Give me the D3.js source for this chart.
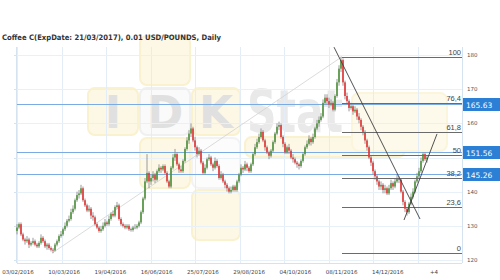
<!DOCTYPE html>
<html>
<head>
<meta charset="utf-8">
<script src="https://cdn.jsdelivr.net/npm/d3@7"></script>
<style>
body { margin: 0; background: #fff; }
svg { display: block; }
</style>
</head>
<body>
<div id="chart"></div>
<script>
const title = "Coffee C(ExpDate: 21/03/2017), 0.01 USD/POUNDS, Daily"

// daily closes, open = previous close
const firstOpen = 128.5
const closes = [129.5,130.5,127.5,126,125.5,126,124.5,125,125.5,124.5,
  124,125,126.5,125.5,124,124.5,123.5,123,122.8,124.5,
  125.5,127,127.5,129,130,131.5,132,134,135,137.5,
  139,139.5,141,137.5,136,134.5,135,133,132.5,130.5,
  129.5,128.5,129,130,131,130.5,132,133.5,133,135.5,
  136,132,130.5,130,129.5,130,129,128.8,129.5,129.5,
  130,131,134,138,143,145.5,143,144,145,143.5,
  146,147,146.5,147.5,145.5,143,141.5,147,150,151,
  148,146.5,146,149,152.5,155,157,158.5,155,153,
  151,152,148.5,145.5,147,149.5,150,148,147,149,
  147.5,144,145,143,142,141,140,140.5,141.5,140.5,
  143,145,147,146.5,148,147,146,148,151,153,
  154.5,156,157.5,155,153,151.5,150.5,152,154.5,157,
  159,159.5,156,154,151.5,153,152,150,149.5,148.5,
  148,147.5,149,151,153,154,155.5,154.5,156,158.5,
  160,161,162,166,167.5,166.5,165.5,166,164,168,
  172,176,178.5,172,168,166.5,164.5,165,163.5,164,
  162,161,159,157.5,155,153,150,148.5,146,144.5,
  143,141.5,142,140.5,141,139.5,141,142.5,141.5,143,
  144,143.5,140,137,135,134,136.5,138.5,140,143,
  144.5,146,149,151,149.5,150]
const highs = [130.5,131,131,128,126.5,127,126.5,125.5,126.5,126,
  125,125.5,127.5,127,126,125,125,124,123.5,125,
  126,127.5,128.5,129.5,131,132,133,135,136,138,
  140,140.5,142,141.5,138,136.5,136,135.5,134,133,
  131,130,130,131,132,131.5,133,134,134.5,136,
  137,136.5,132.5,131,130.5,130.5,130.5,129.5,130,130.5,
  130.5,131.5,134.5,138.5,144,151,146,145,146,145.5,
  146.5,148,147.5,148,148,146,143.5,147.5,151,152.5,
  151.5,148.5,147.5,149.5,153,156,158,160,159,156,
  153.5,153,152.5,149,148,150,151,150.5,148.5,150,
  149.5,148,146,145.5,143.5,142.5,141.5,141.5,142,142,
  143.5,145.5,148,147.5,149,148.5,147.5,148.5,151.5,154,
  155.5,157,158.5,158,155.5,153.5,152,152.5,155,157.5,
  160,160.5,160,156.5,154.5,153.5,154,152.5,151,150,
  149,148.5,149.5,151.5,153.5,155,156.5,156,157,159,
  161,162,163,167,168.5,168.5,167.5,167,166.5,168.5,
  173,177,179.5,179,172.5,169,167,166,165.5,165,
  164.5,163,161.5,159.5,158,155.5,153.5,150.5,149,146.5,
  145,143.5,143,142.5,142,141.5,142,143.5,143,144,
  145,144.5,144,140.5,137.5,135.5,137,139.5,141,143.5,
  145.5,147,150,151.5,151.5,150.5]
const lows = [127.5,129,127,125.5,124.5,125,123.5,124,124.5,124,
  123.5,123.5,124.5,125,123.5,123,123,122.5,122,122.5,
  124,125,126.5,127,128.5,129.5,131,131.5,133.5,134.5,
  137,138,139,137,135.5,134,134,132,131.5,130,
  129,128,128,128.5,129.5,130,130,131.5,132.5,132.5,
  135,131.5,130,129.5,129,129,128.5,128.3,128.3,129,
  129,129.5,130.5,133.5,137.5,142.5,141,142,143,142.5,
  143,145.5,145.5,146,145,142.5,141,141,146.5,149,
  147.5,145.5,145.5,145.5,148.5,152,154,156,154.5,152,
  150,150.5,148,145,145,146.5,149,147.5,146,146.5,
  147,143.5,143.5,142.5,141,140,139.5,139.5,140,140,
  140,142.5,144.5,145.5,146,146,145.5,145.5,147.5,150.5,
  152.5,154,155.5,154.5,152,151,149.5,150,151.5,154,
  156.5,158,155.5,153,151,151,151,149.5,148.5,148,
  147,146.5,147,148.5,150.5,152.5,153.5,153.5,154,155.5,
  158,159,160.5,161.5,165.5,165.5,164.5,165,163.5,163.5,
  167.5,171,175,171,167,165.5,163.5,164,162.5,163,
  161,160,158,156.5,154,152,149.5,147.5,145,143.5,
  142,140.5,140.5,139.5,139.5,139,139,140.5,140.5,141,
  142.5,142.5,139.5,136,134,133,133.5,136,138,139.5,
  142.5,144,145.5,148.5,149,148.5]

const dateLabels = ["03/02/2016", "10/03/2016", "19/04/2016", "16/06/2016", "25/07/2016",
  "29/08/2016", "04/10/2016", "08/11/2016", "14/12/2016", "+4"]
const yTicks = [120, 130, 140, 150, 160, 170, 180]
const gridSteps = d3.range(0, 11)
const levels = [165.63, 151.56, 145.26]
const fibLevels = [0, 23.6, 38.2, 50, 61.8, 76.4, 100]
const fibLow = 122.0
const fibHigh = 179.5
const fibLowIdx = 17.5
const fibHighIdx = 162.5
// trendlines as [index, price] pairs
const trendDown = [[158.5, 182.3], [201.5, 132.0]]
const trendUp = [[193.5, 131.7], [210, 156.9]]

const width = 500
const height = 280
const plot = { left: 17, right: 462, top: 47, bottom: 263 }

const svg = d3.select("#chart")
  .append("svg")
  .attr("width", width)
  .attr("height", height)
  .style("font-family", "'DejaVu Sans', Verdana, sans-serif")

const x = d3.scaleLinear()
  .domain([0, 222.5])
  .range([plot.left, plot.right])

const y = d3.scaleLinear()
  .domain([120, 180])
  .range([260, 55])

const xLabel = d3.scalePoint()
  .domain(dateLabels)
  .range([18, 434])

// watermark (faint)
const wm = svg.append("g").attr("opacity", 0.55)
const tiles = [
  { x: 88, y: 88, w: 50, h: 47, fill: "#fdf4d0", stroke: "#f6e6a8" },
  { x: 140, y: 88, w: 50, h: 47, fill: "#f6f6f6", stroke: "#e4e4e4" },
  { x: 192, y: 88, w: 48, h: 47, fill: "#fdf4d0", stroke: "#f6e6a8" },
  { x: 140, y: 36, w: 50, h: 49, fill: "#fdf4d0", stroke: "#f6e6a8" },
  { x: 140, y: 138, w: 50, h: 50, fill: "#fdf4d0", stroke: "#f6e6a8" },
  { x: 192, y: 138, w: 48, h: 50, fill: "#fafafa", stroke: "#ebebeb" },
  { x: 192, y: 190, w: 48, h: 50, fill: "#fdf4d0", stroke: "#f6e6a8" },
  { x: 245, y: 137, w: 160, h: 20, fill: "#fdf4d0", stroke: "#f6e6a8" },
  { x: 352, y: 93, w: 95, h: 58, fill: "#fdf6dc", stroke: "#f9edc0" }
]
wm.selectAll("rect")
  .data(tiles)
  .join("rect")
  .attr("x", d => d.x)
  .attr("y", d => d.y)
  .attr("width", d => d.w)
  .attr("height", d => d.h)
  .attr("rx", 7)
  .attr("fill", d => d.fill)
  .attr("stroke", d => d.stroke)
  .attr("stroke-width", 2)

const letters = [
  { t: "I", x: 113, size: 44 },
  { t: "D", x: 165, size: 44 },
  { t: "K", x: 216, size: 44 }
]
wm.selectAll("text.letter")
  .data(letters)
  .join("text")
  .attr("class", "letter")
  .attr("x", d => d.x)
  .attr("y", 128)
  .attr("text-anchor", "middle")
  .attr("font-size", d => d.size)
  .attr("font-weight", "bold")
  .attr("fill", "#c8c8c8")
  .text(d => d.t)
wm.append("text")
  .attr("x", 247)
  .attr("y", 132)
  .attr("font-size", 58)
  .attr("font-weight", "bold")
  .attr("fill", "#d8d8d8")
  .attr("textLength", 96)
  .attr("lengthAdjust", "spacingAndGlyphs")
  .text("Stat")

// grid
svg.append("g")
  .selectAll("line")
  .data(gridSteps)
  .join("line")
  .attr("x1", d => Math.round(x(d * 22.25)) + 0.5)
  .attr("x2", d => Math.round(x(d * 22.25)) + 0.5)
  .attr("y1", plot.top)
  .attr("y2", plot.bottom)
  .attr("stroke", "#e3edf7")

svg.append("g")
  .selectAll("line")
  .data(yTicks)
  .join("line")
  .attr("x1", plot.left)
  .attr("x2", plot.right)
  .attr("y1", d => Math.round(y(d)) + 0.5)
  .attr("y2", d => Math.round(y(d)) + 0.5)
  .attr("stroke", "#e8f0f8")

// left ticks
svg.append("g")
  .selectAll("line")
  .data(yTicks)
  .join("line")
  .attr("x1", plot.left - 3)
  .attr("x2", plot.left)
  .attr("y1", d => Math.round(y(d)) + 0.5)
  .attr("y2", d => Math.round(y(d)) + 0.5)
  .attr("stroke", "#d5e2f0")

svg.append("line")
  .attr("x1", plot.left - 0.5).attr("x2", plot.left - 0.5)
  .attr("y1", plot.top).attr("y2", plot.bottom)
  .attr("stroke", "#d5e2f0")
svg.append("line")
  .attr("x1", plot.left).attr("x2", plot.right)
  .attr("y1", plot.bottom + 0.5).attr("y2", plot.bottom + 0.5)
  .attr("stroke", "#d5e2f0")
svg.append("line")
  .attr("x1", plot.right + 0.5).attr("x2", plot.right + 0.5)
  .attr("y1", plot.top).attr("y2", plot.bottom)
  .attr("stroke", "#d5e2f0")

// base line from low to high
svg.append("line")
  .attr("x1", x(fibLowIdx)).attr("y1", y(fibLow))
  .attr("x2", x(fibHighIdx)).attr("y2", y(fibHigh))
  .attr("stroke", "#d2d2d2")
  .attr("stroke-width", 0.8)

// blue levels
svg.append("g")
  .selectAll("line")
  .data(levels)
  .join("line")
  .attr("x1", plot.left)
  .attr("x2", plot.right)
  .attr("y1", d => Math.round(y(d)) + 0.5)
  .attr("y2", d => Math.round(y(d)) + 0.5)
  .attr("stroke", "#7aabe3")

// candles
const candles = closes.map((c, i) => ({
  i: i,
  open: i ? closes[i - 1] : firstOpen,
  close: c,
  high: highs[i],
  low: lows[i]
}))

svg.append("g")
  .selectAll("line")
  .data(candles)
  .join("line")
  .attr("x1", d => x(d.i))
  .attr("x2", d => x(d.i))
  .attr("y1", d => y(d.high))
  .attr("y2", d => y(d.low))
  .attr("stroke", "#8f8f8f")
  .attr("stroke-width", 0.9)

svg.append("g")
  .selectAll("rect")
  .data(candles)
  .join("rect")
  .attr("x", d => x(d.i) - 0.7)
  .attr("width", 1.4)
  .attr("y", d => y(Math.max(d.open, d.close)))
  .attr("height", d => Math.max(0.8, Math.abs(y(d.open) - y(d.close))))
  .attr("fill", d => d.close > d.open ? "#3f8f2c" : d.close < d.open ? "#ee2020" : "#8f8f8f")

// fibonacci
const fibPrice = f => fibLow + (fibHigh - fibLow) * f / 100
const fib = svg.append("g")
fib.selectAll("line")
  .data(fibLevels)
  .join("line")
  .attr("x1", x(fibHighIdx))
  .attr("x2", plot.right)
  .attr("y1", d => Math.round(y(fibPrice(d))) + 0.5)
  .attr("y2", d => Math.round(y(fibPrice(d))) + 0.5)
  .attr("stroke", "#6b6b6b")
  .attr("stroke-width", 1)
fib.selectAll("text")
  .data(fibLevels)
  .join("text")
  .attr("x", plot.right - 1)
  .attr("y", d => Math.round(y(fibPrice(d))) - 2)
  .attr("text-anchor", "end")
  .attr("font-family", "'Liberation Sans', Arial, sans-serif")
  .attr("font-size", 7.5)
  .attr("fill", "#444")
  .text(d => String(d).replace(".", ","))

// trendlines
const line = d3.line().x(d => x(d[0])).y(d => y(d[1]))
svg.selectAll("path.trend")
  .data([trendDown, trendUp])
  .join("path")
  .attr("class", "trend")
  .attr("d", line)
  .attr("fill", "none")
  .attr("stroke", "#3d3d3d")
  .attr("stroke-width", 0.9)

// right axis labels (the ones hidden behind the level tags are left out)
const tagged = yTicks.filter(t => !levels.some(l => Math.abs(y(l) - y(t)) < 8))
svg.append("g")
  .selectAll("text")
  .data(tagged)
  .join("text")
  .attr("x", 467)
  .attr("y", d => y(d) + 2)
  .attr("font-size", 5.5)
  .attr("fill", "#555")
  .text(d => d)

// level labels
const tags = svg.append("g")
  .selectAll("g")
  .data(levels)
  .join("g")
  .attr("transform", d => `translate(463,${Math.round(y(d)) - 6})`)
tags.append("rect")
  .attr("width", 37)
  .attr("height", 13)
  .attr("fill", "#2b7fd4")
tags.append("text")
  .attr("x", 3)
  .attr("y", 9.5)
  .attr("font-size", 7.5)
  .attr("fill", "#fff")
  .text(d => d3.format(".2f")(d))

// x labels
svg.append("g")
  .selectAll("text")
  .data(dateLabels)
  .join("text")
  .attr("x", d => xLabel(d))
  .attr("y", 273.5)
  .attr("text-anchor", "middle")
  .attr("font-size", 5.5)
  .attr("fill", "#444")
  .text(d => d)

// title
svg.append("text")
  .attr("x", 2)
  .attr("y", 40)
  .attr("font-size", 7.5)
  .attr("font-weight", "bold")
  .attr("fill", "#333")
  .attr("textLength", 219)
  .attr("lengthAdjust", "spacingAndGlyphs")
  .text(title)
</script>
</body>
</html>
